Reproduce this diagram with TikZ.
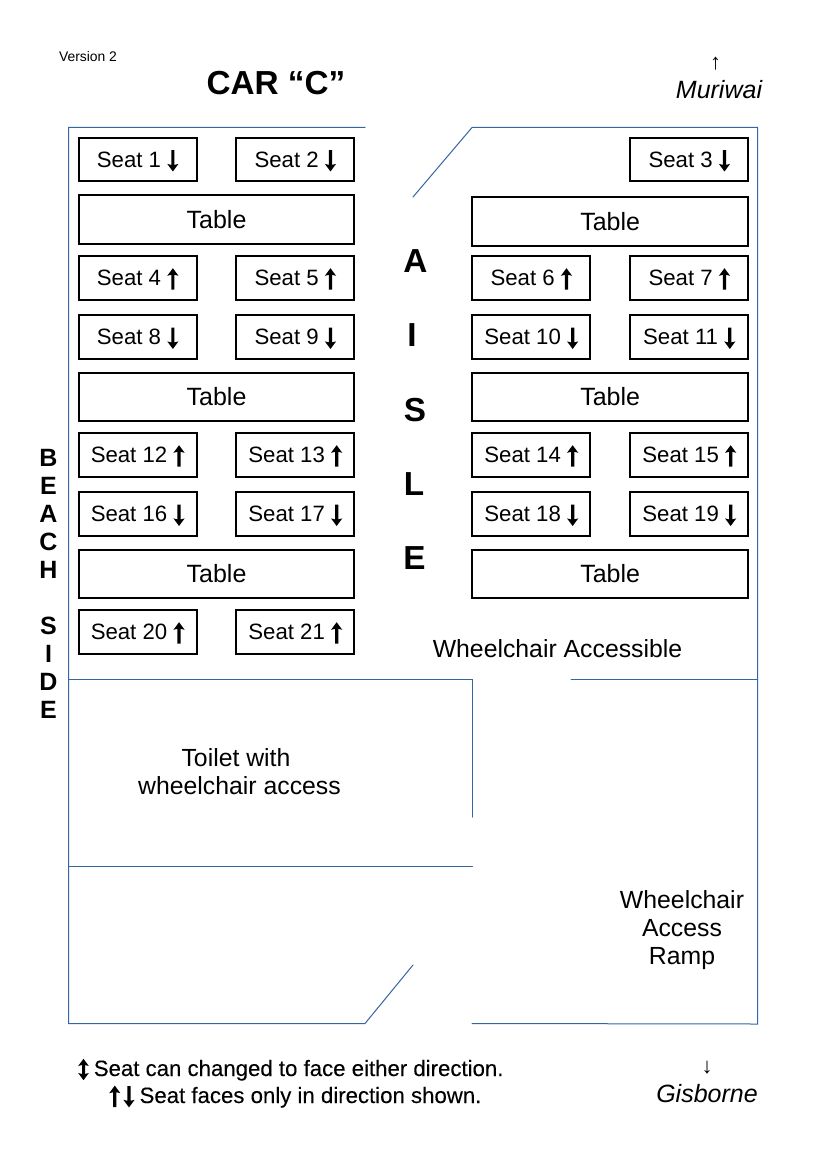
\documentclass[tikz,border=0pt]{standalone}
\usepackage{fontspec}
\setmainfont{Liberation Sans}
\newcommand{\fs}[1]{\fontsize{#1}{28pt}\selectfont}
\newcommand{\dn}{\tikz[baseline=0pt,x=1pt,y=1pt]{\fill[black] (-1.6,17) -- (1.6,17) -- (1.6,2.2) -- (5.6,3.2) -- (0,-4.4) -- (-5.6,3.2) -- (-1.6,2.2) -- cycle;}}
\newcommand{\up}{\tikz[baseline=0pt,x=1pt,y=1pt]{\fill[black] (-1.6,-4) -- (1.6,-4) -- (1.6,10.8) -- (5.6,9.8) -- (0,17.4) -- (-5.6,9.8) -- (-1.6,10.8) -- cycle;}}
\newcommand{\updn}{\tikz[baseline=0pt,x=1pt,y=1pt]{\fill[black] (0,17.2) -- (5.3,10) -- (1.5,11) -- (1.5,2) -- (5.3,3) -- (0,-4.2) -- (-5.3,3) -- (-1.5,2) -- (-1.5,11) -- (-5.3,10) -- cycle;}}
\tikzset{
 box/.style={draw=black,line width=2pt,inner sep=0pt,outer sep=0pt,anchor=north west,fill=white,align=center},
 seatbox/.style={box,minimum width=118pt,minimum height=43.6pt,font=\fs{22.2}},
 tablebox/.style={box,minimum width=275.7pt,minimum height=48pt,font=\fs{25}},
 wall/.style={draw=wallblue,line width=1pt,line cap=round},
 lab/.style={inner sep=0pt,outer sep=0pt,align=center,font=\fs{24.8}},
 big/.style={inner sep=0pt,outer sep=0pt,font=\bfseries\fs{33.3}},
 side/.style={inner sep=0pt,outer sep=0pt,font=\bfseries\fs{25}},
 legend/.style={inner sep=0pt,anchor=base west,font=\fs{22.2}\addfontfeature{FakeBold=0.15}},
}
\definecolor{wallblue}{RGB}{52,101,164}
\begin{document}
\begin{tikzpicture}[x=1pt,y=-1pt]
\useasboundingbox (0,0) rectangle (826,1169);
% walls
\coordinate (w1) at (68.5,127.5);
\coordinate (w2) at (365,127.5);
\coordinate (w3) at (413,197);
\coordinate (w4) at (472,127.5);
\coordinate (w5) at (757.5,127.5);
\coordinate (w6) at (757.5,1024);
\coordinate (w7) at (472,1023.5);
\coordinate (w8) at (413,965);
\coordinate (w9) at (365,1023.5);
\coordinate (w10) at (68.5,1023.5);
\draw[wall] (w2) -- (w1) -- (w10) -- (w9) -- (w8);
\draw[wall] (w3) -- (w4) -- (w5) -- (w6) -- (w7);
\draw[wall] (68.5,679.5) -- (472.5,679.5) -- (472.5,817);
\draw[wall] (571,679.5) -- (757.5,679.5);
\draw[wall] (68.5,866.5) -- (472.5,866.5);
% seats
\foreach \n/\lbl/\x/\y in {
 s1/Seat 1 \dn/78.7/137.8, s2/Seat 2 \dn/236.3/137.8, s3/Seat 3 \dn/630.3/137.8,
 s4/Seat 4 \up/78.7/256.3, s5/Seat 5 \up/236.3/256.3, s6/Seat 6 \up/472.3/256.3, s7/Seat 7 \up/630.3/256.3,
 s8/Seat 8 \dn/78.7/315.3, s9/Seat 9 \dn/236.3/315.3, s10/Seat 10 \dn/472.3/315.3, s11/Seat 11 \dn/630.3/315.3,
 s12/Seat 12 \up/78.7/433.3, s13/Seat 13 \up/236.3/433.3, s14/Seat 14 \up/472.3/433.3, s15/Seat 15 \up/630.3/433.3,
 s16/Seat 16 \dn/78.7/492.3, s17/Seat 17 \dn/236.3/492.3, s18/Seat 18 \dn/472.3/492.3, s19/Seat 19 \dn/630.3/492.3,
 s20/Seat 20 \up/78.7/610.3, s21/Seat 21 \up/236.3/610.3}
 \node[seatbox,text height=18pt,text depth=3pt] (\n) at (\x,\y) {\lbl};
\foreach \n/\x/\y in {t1/78.7/195.5, t2/472.3/197.5, t3/78.7/372.5, t4/472.3/372.5, t5/78.7/549.5, t6/472.3/549.5}
 \node[tablebox] (\n) at (\x,\y) {Table};
% aisle
\node[big] (a1) at (415.5,261) {A};
\node[big] (a2) at (412,335) {I};
\node[big] (a3) at (415,410) {S};
\node[big] (a4) at (414,484) {L};
\node[big] (a5) at (414.5,558) {E};
% beach side
\foreach \n/\c/\y in {b1/B/458,b2/E/486,b3/A/514,b4/C/542,b5/H/570,b6/S/626,b7/I/654,b8/D/682,b9/E/710}
 \node[side] (\n) at (48.5,\y) {\c};
% labels
\node[inner sep=0pt,font=\fs{13.9}] (ver) at (88,57) {Version 2};
\node[inner sep=0pt,font=\bfseries\fs{33.3}] (title) at (276,83) {CAR “C”};
\node[inner sep=0pt,font=\fs{22}] (muarr) at (715.5,64) {↑};
\node[inner sep=0pt,font=\itshape\fs{25}] (mu) at (719,90) {Muriwai};
\node[lab] (wa) at (557.5,649) {Wheelchair Accessible};
\node[lab] (toilet) at (239.5,772) {Toilet with\hspace*{7pt}\\wheelchair access};
\node[lab] (ramp) at (682,930) {Wheelchair\\Access\\Ramp};
\node[inner sep=0pt,font=\fs{22}] (giarr) at (707,1068) {↓};
\node[inner sep=0pt,font=\itshape\fs{25}] (gi) at (707,1094) {Gisborne};
\node[legend] (leg1) at (78,1076) {\updn\kern 5pt Seat can changed to face either direction.};
\node[legend] (leg2) at (109,1103) {\up\kern 3pt\dn\kern 5pt Seat faces only in direction shown.};
\end{tikzpicture}
\end{document}
